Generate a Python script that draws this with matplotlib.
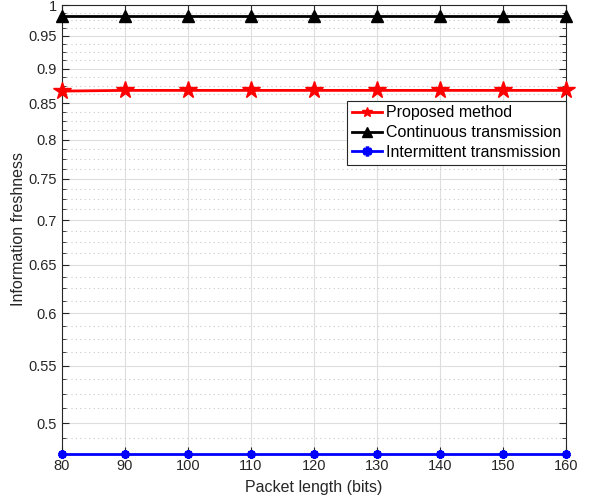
import matplotlib
matplotlib.use("Agg")
import matplotlib.pyplot as plt
from matplotlib.ticker import FixedLocator, FixedFormatter, MultipleLocator, NullFormatter

plt.rcParams['font.family'] = ['Liberation Sans', 'DejaVu Sans']

# data
packet_len = [80, 90, 100, 110, 120, 130, 140, 150, 160]
proposed = [0.867, 0.868, 0.868, 0.868, 0.868, 0.868, 0.868, 0.868, 0.868]
continuous = [0.982, 0.982, 0.982, 0.982, 0.982, 0.982, 0.982, 0.982, 0.982]
intermittent = [0.475, 0.475, 0.475, 0.475, 0.475, 0.475, 0.475, 0.475, 0.475]

y_ticks = [0.5, 0.55, 0.6, 0.65, 0.7, 0.75, 0.8, 0.85, 0.9, 0.95, 1.0]
y_labels = ['0.5', '0.55', '0.6', '0.65', '0.7', '0.75', '0.8', '0.85', '0.9', '0.95', '1']

fig = plt.figure(figsize=(5.89, 4.99), dpi=100)
ax = fig.add_axes([62 / 589, 1 - 454 / 499, (566 - 62) / 589, (454 - 5) / 499])

ax.plot(packet_len, proposed, color='red', lw=2, marker='*', ms=13,
        label='Proposed method', clip_on=False, zorder=3)
ax.plot(packet_len, continuous, color='black', lw=2, marker='^', ms=8,
        mfc='black', label='Continuous transmission', clip_on=False, zorder=3)
ax.plot(packet_len, intermittent, color='blue', lw=2, marker=(6, 2, 0), ms=6,
        mew=2.5, label='Intermittent transmission', clip_on=False, zorder=3)

ax.set_yscale('log')
ax.set_xlim(80, 160)
ax.set_ylim(0.475, 1.0)
ax.xaxis.set_major_locator(MultipleLocator(10))
ax.yaxis.set_major_locator(FixedLocator(y_ticks))
ax.yaxis.set_major_formatter(FixedFormatter(y_labels))
ax.yaxis.set_minor_locator(MultipleLocator(0.0125))
ax.yaxis.set_minor_formatter(NullFormatter())

ax.grid(True, which='major', color='#dedede', lw=0.8)
ax.grid(True, which='minor', axis='y', color='#c8c8c8', lw=0.8, ls=(0, (1, 3)))
ax.set_axisbelow(True)

ax.tick_params(which='both', direction='in', top=True, right=True,
               labelsize=10.5, colors='#262626')
ax.tick_params(which='major', length=5)
ax.tick_params(which='minor', length=3)
for s in ax.spines.values():
    s.set_color('#262626')
    s.set_linewidth(0.8)

ax.set_xlabel('Packet length (bits)', fontsize=11.5, color='#262626', labelpad=5)
ax.set_ylabel('Information freshness', fontsize=11.5, color='#262626', labelpad=2)

leg = ax.legend(loc='upper right', bbox_to_anchor=(1.0, 0.787), fontsize=11.5,
                fancybox=False, edgecolor='#262626', framealpha=1,
                borderpad=0.3, labelspacing=0.3, handlelength=1.9,
                handletextpad=0.25, borderaxespad=0)
leg.get_frame().set_linewidth(0.8)
for h in leg.legend_handles:
    h.set_markersize(7)

fig.savefig('out.png', dpi=100)
